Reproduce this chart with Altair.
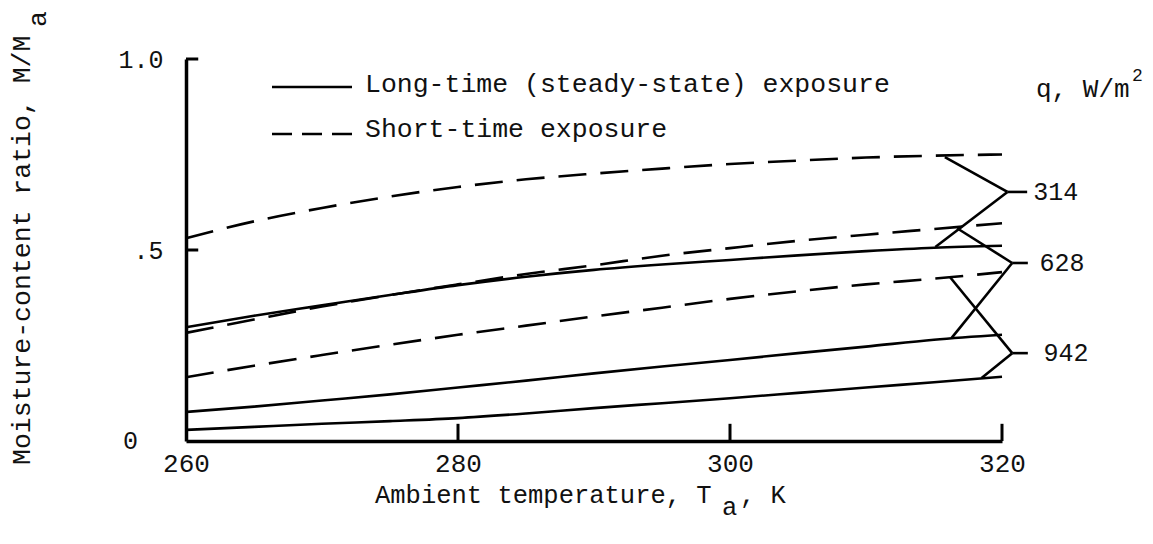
import altair as alt
import pandas as pd

FONT = "Liberation Mono"
INK = "#111111"

# ---- data -----------------------------------------------------------------
T = [260, 265, 270, 275, 280, 285, 290, 295, 300, 305, 310, 315, 320]
short_314 = [0.531, 0.575, 0.610, 0.640, 0.665, 0.685, 0.700, 0.713, 0.725, 0.734, 0.742, 0.747, 0.750]
long_314 = [0.298, 0.328, 0.355, 0.382, 0.408, 0.430, 0.448, 0.462, 0.474, 0.486, 0.497, 0.506, 0.511]
short_628 = [0.283, 0.318, 0.352, 0.382, 0.410, 0.437, 0.460, 0.485, 0.505, 0.524, 0.540, 0.555, 0.570]
long_628 = [0.076, 0.090, 0.106, 0.122, 0.140, 0.158, 0.177, 0.195, 0.212, 0.230, 0.247, 0.265, 0.278]
short_942 = [0.167, 0.197, 0.225, 0.252, 0.278, 0.302, 0.326, 0.349, 0.372, 0.392, 0.410, 0.425, 0.442]
long_942 = [0.029, 0.037, 0.045, 0.052, 0.060, 0.072, 0.086, 0.099, 0.112, 0.126, 0.140, 0.154, 0.168]

# heat-flux labels and their leader lines (data coordinates)
q_labels = ["314", "628", "942"]
upper_T = [315.8, 316.7, 316.2]
upper_M = [0.743, 0.557, 0.428]
vertex_T = [320.4, 320.75, 320.75]
vertex_M = [0.652, 0.466, 0.230]
lower_T = [315.1, 316.3, 318.5]
lower_M = [0.508, 0.270, 0.165]
spur_T = [321.85, 321.9, 321.9]
label_T = [322.3, 322.75, 323.05]

x_ticks = [260, 280, 300, 320]
y_ticks = [0.5, 1.0]
y_tick_text = [".5", "1.0"]
zero_label = ["0"]
inner_x_ticks = [280, 300, 320]
inner_y_ticks = [0.5, 1.0]

# ---- tables ------------------------------------------------------------------
rows = []
for name, kind, vals in [
    ("314", "short", short_314), ("314", "long", long_314),
    ("628", "short", short_628), ("628", "long", long_628),
    ("942", "short", short_942), ("942", "long", long_942),
]:
    for t, m in zip(T, vals):
        rows.append({"T": t, "M": m, "series": f"{kind}-{name}", "kind": kind})
curves = pd.DataFrame(rows)

segs = []
for i in range(len(q_labels)):
    segs.append({"T": upper_T[i], "M": upper_M[i], "T2": vertex_T[i], "M2": vertex_M[i]})
    segs.append({"T": vertex_T[i], "M": vertex_M[i], "T2": lower_T[i], "M2": lower_M[i]})
    segs.append({"T": vertex_T[i], "M": vertex_M[i], "T2": spur_T[i], "M2": vertex_M[i]})
leaders = pd.DataFrame(segs)
labels = pd.DataFrame({"T": label_T, "M": vertex_M, "q": q_labels})

xs = alt.Scale(domain=[260, 320], nice=False, zero=False)
ys = alt.Scale(domain=[0, 1], nice=False, zero=False)
x_axis = alt.Axis(values=x_ticks, ticks=False, grid=False, title=None,
                  domainColor="black", domainWidth=3.5, labelFont=FONT,
                  labelFontSize=26, labelColor=INK, labelPadding=9,
                  labelFlush=False)
y_axis = alt.Axis(values=y_ticks, ticks=False, grid=False, title=None,
                  domainColor="black", domainWidth=3.5, labelFont=FONT,
                  labelFontSize=25, labelColor=INK, labelPadding=23,
                  labelFlush=False,
                  labelExpr="datum.value == 1 ? '1.0' : '.5'")
X = alt.X("T:Q", scale=xs, axis=x_axis)
Y = alt.Y("M:Q", scale=ys, axis=y_axis)

solid = alt.Chart(curves).transform_filter("datum.kind == 'long'").mark_line(
    color="black", strokeWidth=2.6, interpolate="monotone"
).encode(x=X, y=Y, detail="series:N")

dashed = alt.Chart(curves).transform_filter("datum.kind == 'short'").mark_line(
    color="black", strokeWidth=2.6, interpolate="monotone", strokeDash=[28, 14]
).encode(x=X, y=Y, detail="series:N")

lead = alt.Chart(leaders).mark_rule(color="black", strokeWidth=2.6).encode(
    x=X, y=Y, x2="T2:Q", y2="M2:Q")

qtext = alt.Chart(labels).mark_text(
    font=FONT, fontSize=25, color=INK, align="left", baseline="middle"
).encode(x=X, y=Y, text="q:N")

# the "0" tick label sits further left than the others in the original
zero_txt = alt.Chart(pd.DataFrame({"T": [260], "M": [0], "lab": zero_label})).mark_text(
    font=FONT, fontSize=25, color=INK, align="right", baseline="middle", dx=-48
).encode(x=X, y=Y, text="lab:N")

xt = alt.Chart(pd.DataFrame({"T": inner_x_ticks})).mark_rule(
    color="black", strokeWidth=3).encode(x=X, y=alt.datum(0), y2=alt.datum(0.045))
yt = alt.Chart(pd.DataFrame({"M": inner_y_ticks})).mark_rule(
    color="black", strokeWidth=3).encode(y=Y, x=alt.datum(260), x2=alt.datum(260.9))

one = pd.DataFrame({"k": [0]})


def txt(s, x, y, size, angle=0, align="left", baseline="alphabetic"):
    kw = dict(text=s, font=FONT, fontSize=size, color=INK, align=align, baseline=baseline)
    if angle:
        kw["angle"] = angle
    return alt.Chart(one).mark_text(**kw).encode(x=alt.value(x), y=alt.value(y))


leg_solid = alt.Chart(one).mark_rule(color="black", strokeWidth=2.6).encode(
    x=alt.value(86), x2=alt.value(166), y=alt.value(28))
leg_dash = alt.Chart(one).mark_rule(color="black", strokeWidth=2.6, strokeDash=[20, 10]).encode(
    x=alt.value(86), x2=alt.value(166), y=alt.value(75))

texts = [
    txt("Long-time (steady-state) exposure", 179, 33, 26.5),
    txt("Short-time exposure", 179, 78, 26.5),
    txt("q, W/m", 850, 38, 26),
    txt("2", 946, 22, 18),
    txt("Ambient temperature, T", 189, 444, 25.5),
    txt("a", 536, 456, 25.5),
    txt(", K", 554, 444, 25.5),
    txt("Moisture-content ratio, M/M", -156, 406, 26.5, angle=270),
    txt("a", -140, -32, 26.5, angle=270),
]

chart = alt.layer(solid, dashed, lead, qtext, zero_txt, xt, yt, leg_solid, leg_dash, *texts).properties(
    width=816, height=382,
    padding={"left": 178, "top": 51, "right": 143, "bottom": 87},
    autosize=alt.AutoSizeParams(type="none"),
    background="white",
).configure_view(stroke=None)

chart.save("out.html", embed_options={"renderer": "svg", "actions": False})
